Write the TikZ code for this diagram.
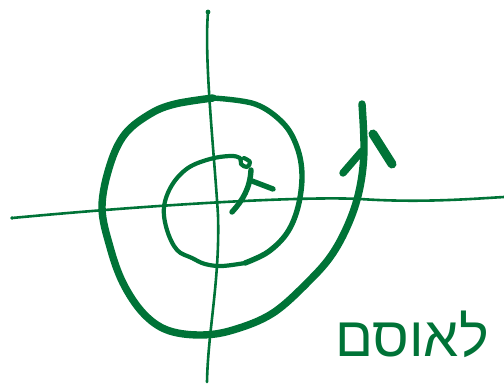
\documentclass[tikz,border=0pt]{standalone}
\usepackage{fontspec}
\newfontfamily\hebfont[Script=Hebrew]{Liberation Sans}
\TeXXeTstate=1
\usetikzlibrary{positioning}
\definecolor{ink}{RGB}{0, 115, 55}

\begin{document}
\begin{tikzpicture}[x=1pt, y=-1pt, line cap=round, line join=round]
    \tikzstyle{axis} = [draw=ink, line width=2.6pt]
    \tikzstyle{thin} = [draw=ink, line width=4.2pt]
    \tikzstyle{mid} = [draw=ink, line width=5.4pt]
    \tikzstyle{thick} = [draw=ink, line width=7.4pt]
    \tikzstyle{barb} = [draw=ink, line width=9pt]
    \tikzstyle{label} = [text=ink, font=\hebfont\fontsize{56}{56}\selectfont, inner sep=0pt]

    \useasboundingbox (0,0) rectangle (504,386);

    % Axes
    \coordinate (xl) at (12,218);
    \coordinate (xr) at (504,197);
    \coordinate (yt) at (208,12);
    \coordinate (yb) at (207,382);
    \draw [axis] (xl) .. controls (150,205) and (300,196) .. (360,199) .. controls (420,203) and (470,199) .. (xr);
    \draw [axis] (yt) .. controls (204,60) and (214,150) .. (218,215) .. controls (220,280) and (208,330) .. (yb);
    \fill [ink] (yt) circle (2.4pt);
    \fill [ink] (xl) circle (1.8pt);

    % Spiral, from the inside out
    \draw [thin] plot [smooth, tension=0.6] coordinates {(244,158) (250,162) (247,167) (241,164) (240,158) (230,156) (210,159) (188,168) (172,185) (164,207) (167,230) (177,250) (192,258) (205,264) (222,266) (245,263)};
    \draw [mid] plot [smooth, tension=0.6] coordinates {(245,263) (268,252) (287,233) (298,207) (302,175) (297,147) (283,123) (255,104) (213,98)};
    \draw [thick] plot [smooth, tension=0.6] coordinates {(213,98) (175,104) (150,114) (125,134) (110,165) (102,207) (110,247) (123,283) (143,313) (167,330) (200,335) (233,330) (273,313) (310,280) (333,253) (350,220) (360,187) (364,150) (362,104)};

    % Arrow heads
    \coordinate (a1) at (232,212);
    \coordinate (a2) at (251,170);
    \coordinate (a3) at (252,181);
    \coordinate (a4) at (273,189);
    \draw [mid] (a1) .. controls (243,200) and (250,188) .. (a2);
    \draw [mid] (a3) -- (a4);
    \coordinate (b1) at (343,173);
    \coordinate (b2) at (362,151);
    \coordinate (b3) at (373,134);
    \coordinate (b4) at (392,164);
    \draw [thick] (b1) -- (b2);
    \draw [barb] (b3) -- (b4);

    % Label
    \node (tag) [label] at (412,334) {\beginR לאוסם\endR};
\end{tikzpicture}
\end{document}
